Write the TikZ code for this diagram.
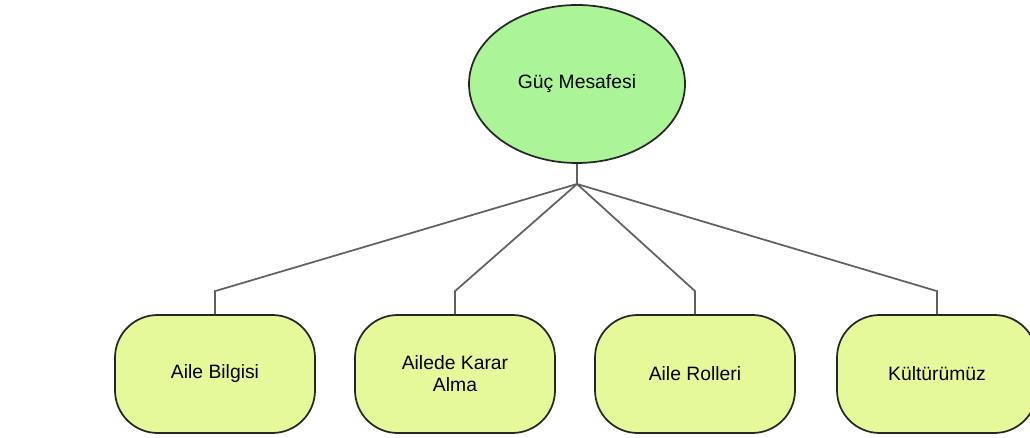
\documentclass[tikz,border=0pt]{standalone}
\usepackage{fontspec}
\setmainfont{Liberation Sans}
\usepackage{tikz}
\usetikzlibrary{shapes.geometric}

\definecolor{rootgreen}{RGB}{172,244,152}
\definecolor{leafgreen}{RGB}{230,249,154}
\definecolor{wire}{RGB}{96,96,100}

\tikzset{
	rootnode/.style={ellipse, draw=black!85, line width=1.3pt, fill=rootgreen,
		minimum width=162pt, minimum height=118.5pt, inner sep=0pt,
		font=\fontsize{14.5}{16.5}\selectfont},
	leafnode/.style={rectangle, rounded corners=32pt, draw=black!85, line width=1.3pt,
		fill=leafgreen, minimum width=150pt, minimum height=88.5pt, inner sep=2pt,
		align=center, font=\fontsize{14.5}{16.5}\selectfont},
	wireline/.style={draw=wire, line width=1.3pt}
}

\begin{document}
\begin{tikzpicture}[x=0.75pt,y=0.75pt]
	% \draw[help lines] (0,0) grid (1030,438);
	\useasboundingbox (0,0) rectangle (1030,438);

	% root
	\node[rootnode] (guc) at (577,354) {Güç Mesafesi};
	\coordinate (hub) at (577,254);

	% leaves
	\node[leafnode] (bilgi)  at (215,64) {Aile Bilgisi};
	\node[leafnode] (karar)  at (455,64) {Ailede Karar\\Alma};
	\node[leafnode] (roller) at (695,64) {Aile Rolleri};
	\node[leafnode] (kultur) at (937,64) {Kültürümüz};

	% -
	\draw[wireline] (guc.south) -- (hub);
	\foreach \leaf in {bilgi,karar,roller,kultur}
		\draw[wireline] (hub) -- ([yshift=17.25pt]\leaf.north) -- (\leaf.north);

\end{tikzpicture}
\end{document}
